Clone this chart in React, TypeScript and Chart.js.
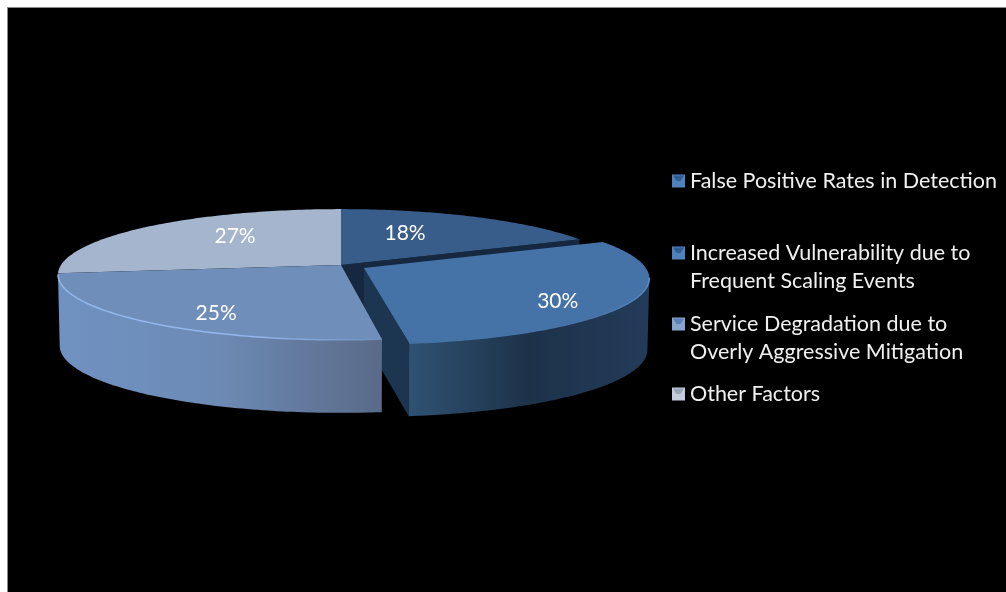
import React, { useEffect, useRef } from "react";
import { Chart, registerables } from "chart.js";

Chart.register(...registerables);

const categories = [
  "False Positive Rates in Detection",
  "Increased Vulnerability due to Frequent Scaling Events",
  "Service Degradation due to Overly Aggressive Mitigation",
  "Other Factors",
];
const shares = [18, 30, 25, 27];
const legendLines = [
  ["False Positive Rates in Detection"],
  ["Increased Vulnerability due to", "Frequent Scaling Events"],
  ["Service Degradation due to", "Overly Aggressive Mitigation"],
  ["Other Factors"],
];
const topColors = ["#385d8a", "#4573a7", "#6f8eba", "#a5b5ce"];
const rimColors = ["#4a75a8", "#5a8ac2", "#93b8ee", "#b5c4da"];
const edgeColors = ["#15283f", "#1c3550", "#1c3550", "#1c3550"];
const wallStops = [
  ["#2a4a6a", "#1c3048"],
  ["#2f5273", "#1d3249", "#233b5a"],
  ["#7092c2", "#6c8ab4", "#5a6a88"],
  ["#7a8aa0", "#5a6a80"],
];
const markerColors = [
  ["#2f5d94", "#4f82bd"],
  ["#2f5d94", "#4f82bd"],
  ["#5c82b4", "#86a6d0"],
  ["#9aa6b8", "#c4cedc"],
];

// Painter's order for the slices: back pieces first, the front slice last.
const paintOrder = [0, 3, 1, 2];
// Per-slice label adjustment relative to the slice's mid-radius anchor.
const labelNudge = [
  [-39, 5],
  [-3, 9],
  [16, 6.5],
  [41, 0.6],
];
const legendRowCentres = [173, 245, 316, 386];

const PERSPECTIVE = 0.145;
const SQUASH = 0.2286;
const DEPTH = 71;
const FONT = "Lato, 'Open Sans', sans-serif";

type Pt = [number, number];

function project(el: any, u: number, v: number): Pt {
  const p = 1 / (1 - PERSPECTIVE * v);
  const r = el.outerRadius;
  return [el.x + r * u * p, el.y + r * SQUASH * v * p];
}

function drop(el: any, pt: Pt, v: number): Pt {
  return [el.x + (pt[0] - el.x) * 0.994, pt[1] + DEPTH + 2 * v];
}

function shift(el: any): Pt {
  const mid = (el.startAngle + el.endAngle) / 2;
  const k = el.options.offset / el.outerRadius;
  return [Math.cos(mid) * k, Math.sin(mid) * k];
}

function rimPoints(el: any, from: number, to: number): { pt: Pt; v: number }[] {
  const [du, dv] = shift(el);
  const out: { pt: Pt; v: number }[] = [];
  const steps = 96;
  for (let i = 0; i <= steps; i++) {
    const t = from + ((to - from) * i) / steps;
    const u = Math.cos(t) + du;
    const v = Math.sin(t) + dv;
    out.push({ pt: project(el, u, v), v });
  }
  return out;
}

function trace(ctx: CanvasRenderingContext2D, pts: Pt[]) {
  ctx.beginPath();
  pts.forEach((p, i) => (i ? ctx.lineTo(p[0], p[1]) : ctx.moveTo(p[0], p[1])));
  ctx.closePath();
}

function frontRange(el: any): [number, number] {
  const edge = Math.asin(PERSPECTIVE);
  return [Math.max(el.startAngle, edge), Math.min(el.endAngle, Math.PI - edge)];
}

function drawEndWall(ctx: CanvasRenderingContext2D, el: any, i: number) {
  if (Math.cos(el.endAngle) <= 0.01) return;
  const [du, dv] = shift(el);
  const apex = project(el, du, dv);
  const vEnd = Math.sin(el.endAngle) + dv;
  const outer = project(el, Math.cos(el.endAngle) + du, vEnd);
  trace(ctx, [apex, outer, drop(el, outer, vEnd), drop(el, apex, dv)]);
  ctx.fillStyle = edgeColors[i];
  ctx.fill();
}

function drawOuterWall(ctx: CanvasRenderingContext2D, el: any, i: number) {
  const [from, to] = frontRange(el);
  if (to <= from) return;
  const rim = rimPoints(el, from, to);
  const lower = rim.map((r) => drop(el, r.pt, r.v)).reverse();
  const xs = rim.map((r) => r.pt[0]);
  const grad = ctx.createLinearGradient(Math.min(...xs), 0, Math.max(...xs), 0);
  const stops = wallStops[i];
  stops.forEach((c, k) => grad.addColorStop(k / (stops.length - 1), c));
  trace(ctx, [...rim.map((r) => r.pt), ...lower]);
  ctx.fillStyle = grad;
  ctx.fill();
}

function drawTop(ctx: CanvasRenderingContext2D, el: any, i: number) {
  const [du, dv] = shift(el);
  const rim = rimPoints(el, el.startAngle, el.endAngle).map((r) => r.pt);
  trace(ctx, [project(el, du, dv), ...rim]);
  ctx.fillStyle = topColors[i];
  ctx.fill();

  // Light catches the front edge on the left and fades towards the centre line.
  const [from, to] = frontRange(el);
  if (to <= from) return;
  const front = rimPoints(el, from, to);
  const xs = front.map((r) => r.pt[0]);
  const x0 = Math.min(...xs);
  const x1 = Math.max(...xs);
  const shine = ctx.createLinearGradient(x0, 0, x1, 0);
  const bright = el.x > x0 && x1 <= el.x + 60;
  shine.addColorStop(0, bright ? rimColors[i] : topColors[i]);
  shine.addColorStop(bright ? 0.6 : 0.75, bright ? rimColors[i] : topColors[i]);
  shine.addColorStop(1, bright ? topColors[i] : rimColors[i]);
  ctx.beginPath();
  front.forEach((r, k) => (k ? ctx.lineTo(r.pt[0], r.pt[1]) : ctx.moveTo(r.pt[0], r.pt[1])));
  ctx.strokeStyle = shine;
  ctx.lineWidth = 1.5;
  ctx.stroke();
}

function drawMarker(ctx: CanvasRenderingContext2D, x: number, cy: number, i: number) {
  const [dark, light] = markerColors[i];
  ctx.fillStyle = light;
  ctx.fillRect(x, cy - 6.5, 13, 13);
  ctx.fillStyle = dark;
  ctx.beginPath();
  ctx.moveTo(x + 1, cy - 5.5);
  ctx.lineTo(x + 12, cy - 5.5);
  ctx.lineTo(x + 8.5, cy);
  ctx.lineTo(x + 4.5, cy);
  ctx.closePath();
  ctx.fill();
}

const tiltedPie = {
  id: "tiltedPie",
  // The arcs keep their geometry from the pie controller; only the painting is replaced.
  beforeDatasetsDraw(chart: any) {
    const ctx: CanvasRenderingContext2D = chart.ctx;
    const arcs = chart.getDatasetMeta(0).data;
    for (const i of paintOrder) {
      const el = arcs[i];
      drawEndWall(ctx, el, i);
      drawOuterWall(ctx, el, i);
      drawTop(ctx, el, i);
    }
    return false;
  },
  afterDraw(chart: any) {
    const ctx: CanvasRenderingContext2D = chart.ctx;
    const arcs = chart.getDatasetMeta(0).data;
    const values: number[] = chart.data.datasets[0].data;

    ctx.save();
    ctx.fillStyle = "#ffffff";
    ctx.font = `21px ${FONT}`;
    ctx.textAlign = "center";
    ctx.textBaseline = "middle";
    arcs.forEach((el: any, i: number) => {
      const [du, dv] = shift(el);
      const mid = (el.startAngle + el.endAngle) / 2;
      const [x, y] = project(el, Math.cos(mid) * 0.75 + du, Math.sin(mid) * 0.75 + dv);
      ctx.fillText(`${values[i]}%`, x + labelNudge[i][0], y + labelNudge[i][1]);
    });

    // Legend block to the right of the pie.
    ctx.font = `21.5px ${FONT}`;
    ctx.textAlign = "left";
    legendLines.forEach((lines, i) => {
      const cy = legendRowCentres[i];
      drawMarker(ctx, 664, cy, i);
      ctx.fillStyle = "#f0f0f0";
      lines.forEach((line, k) => ctx.fillText(line, 682, cy + k * 28));
    });
    ctx.restore();
  },
};

export default function App() {
  const ref = useRef<HTMLCanvasElement>(null);

  useEffect(() => {
    const chart = new Chart(ref.current!, {
      type: "pie",
      data: {
        labels: categories,
        datasets: [
          {
            data: shares,
            backgroundColor: topColors,
            borderWidth: 0,
            offset: [0, 26, 0, 0],
          },
        ],
      },
      options: {
        animation: false,
        responsive: false,
        radius: 280,
        layout: { padding: { right: 332, bottom: 70 } },
        plugins: { legend: { display: false }, tooltip: { enabled: false } },
      },
      plugins: [tiltedPie],
    } as any);
    return () => chart.destroy();
  }, []);

  return (
    <div
      style={{
        position: "fixed",
        left: 7,
        top: 7,
        width: 999,
        height: 585,
        overflow: "hidden",
        background: "#000",
        boxSizing: "border-box",
        borderLeft: "1px solid #8a8a8a",
        borderTop: "1px solid #8a8a8a",
      }}
    >
      <canvas ref={ref} width={998} height={584} style={{ display: "block" }} />
    </div>
  );
}
